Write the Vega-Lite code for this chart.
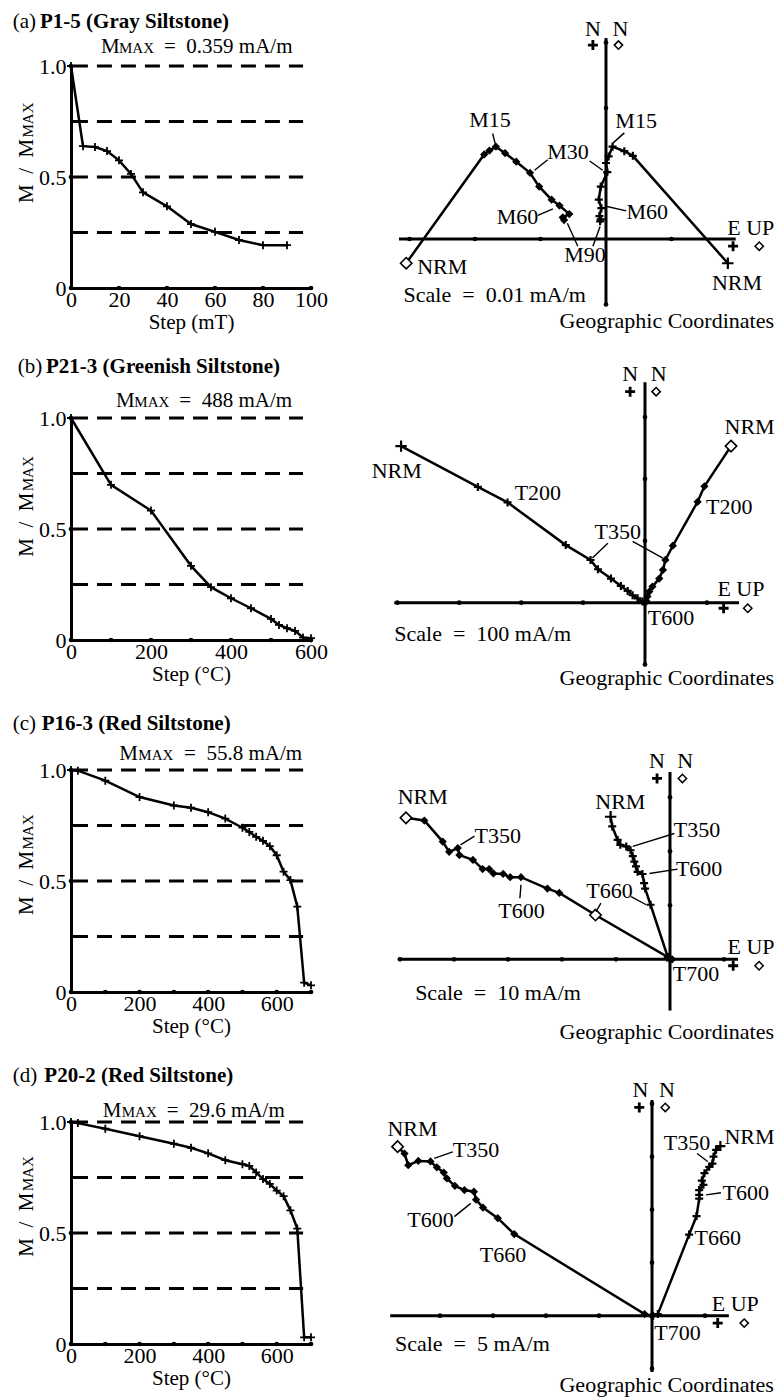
{
"$schema":"https://vega.github.io/schema/vega-lite/v6.json",
"padding":{"left":12,"top":11,"right":0,"bottom":0},
"background":"white",
"config":{
 "view":{"stroke":null},
 "axis":{"domainColor":"black","domainWidth":3,"ticks":false,"tickSize":0,"grid":false,"labelFont":"Liberation Serif","labelFontSize":22,"labelColor":"black","labelFlush":false,"labelOverlap":false,"titleFont":"Liberation Serif","titleFontSize":21,"titleFontWeight":"normal","titleColor":"black"},
 "axisX":{"labelPadding":1,"titlePadding":1},
 "axisY":{"labelPadding":5},
 "text":{"font":"Liberation Serif","color":"black"}
},
"datasets":{
 "ca":[{"step":0,"m":1.0},{"step":5,"m":0.639},{"step":10,"m":0.635},{"step":15,"m":0.617},{"step":20,"m":0.575},{"step":25,"m":0.514},{"step":30,"m":0.431},{"step":40,"m":0.368},{"step":50,"m":0.288},{"step":60,"m":0.253},{"step":70,"m":0.216},{"step":80,"m":0.193},{"step":90,"m":0.193}],
 "cb":[{"step":0,"m":1.0},{"step":100,"m":0.699},{"step":200,"m":0.583},{"step":300,"m":0.334},{"step":350,"m":0.238},{"step":400,"m":0.188},{"step":450,"m":0.143},{"step":500,"m":0.095},{"step":520,"m":0.068},{"step":540,"m":0.053},{"step":560,"m":0.041},{"step":580,"m":0.011},{"step":600,"m":0.008}],
 "cc":[{"step":0,"m":1.0},{"step":20,"m":0.997},{"step":100,"m":0.952},{"step":200,"m":0.878},{"step":300,"m":0.84},{"step":350,"m":0.83},{"step":400,"m":0.81},{"step":450,"m":0.781},{"step":500,"m":0.74},{"step":520,"m":0.721},{"step":540,"m":0.699},{"step":560,"m":0.681},{"step":580,"m":0.657},{"step":600,"m":0.616},{"step":620,"m":0.542},{"step":640,"m":0.504},{"step":660,"m":0.385},{"step":680,"m":0.042},{"step":700,"m":0.03}],
 "cd":[{"step":0,"m":1.0},{"step":20,"m":0.995},{"step":100,"m":0.97},{"step":200,"m":0.936},{"step":300,"m":0.902},{"step":350,"m":0.884},{"step":400,"m":0.859},{"step":450,"m":0.828},{"step":500,"m":0.81},{"step":520,"m":0.802},{"step":540,"m":0.773},{"step":560,"m":0.743},{"step":580,"m":0.721},{"step":600,"m":0.691},{"step":620,"m":0.666},{"step":640,"m":0.602},{"step":660,"m":0.52},{"step":680,"m":0.03},{"step":700,"m":0.03}],
 "za":[
  {"s":"v","i":0,"x":-3.05,"y":-0.37},{"s":"v","i":1,"x":-1.86,"y":1.29},{"s":"v","i":2,"x":-1.78,"y":1.35},{"s":"v","i":3,"x":-1.68,"y":1.41},{"s":"v","i":4,"x":-1.54,"y":1.31},{"s":"v","i":5,"x":-1.37,"y":1.18},{"s":"v","i":6,"x":-1.16,"y":1.01},{"s":"v","i":7,"x":-1.02,"y":0.8},{"s":"v","i":8,"x":-0.83,"y":0.6},{"s":"v","i":9,"x":-0.71,"y":0.51},{"s":"v","i":10,"x":-0.56,"y":0.38},{"s":"v","i":11,"x":-0.66,"y":0.33},{"s":"v","i":12,"x":-0.64,"y":0.29},
  {"s":"h","i":0,"x":1.86,"y":-0.37},{"s":"h","i":1,"x":0.41,"y":1.27},{"s":"h","i":2,"x":0.28,"y":1.34},{"s":"h","i":3,"x":0.1,"y":1.41},{"s":"h","i":4,"x":0.04,"y":1.26},{"s":"h","i":5,"x":0.0,"y":1.16},{"s":"h","i":6,"x":0.02,"y":1.02},{"s":"h","i":7,"x":-0.08,"y":0.8},{"s":"h","i":8,"x":-0.11,"y":0.6},{"s":"h","i":9,"x":-0.07,"y":0.47},{"s":"h","i":10,"x":-0.1,"y":0.35},{"s":"h","i":11,"x":-0.08,"y":0.3},{"s":"h","i":12,"x":-0.09,"y":0.27}],
 "zb":[
  {"s":"h","i":0,"x":-3.94,"y":2.53},{"s":"h","i":1,"x":-2.7,"y":1.87},{"s":"h","i":2,"x":-2.22,"y":1.62},{"s":"h","i":3,"x":-1.28,"y":0.93},{"s":"h","i":4,"x":-0.88,"y":0.69},{"s":"h","i":5,"x":-0.76,"y":0.54},{"s":"h","i":6,"x":-0.55,"y":0.39},{"s":"h","i":7,"x":-0.39,"y":0.27},{"s":"h","i":8,"x":-0.28,"y":0.19},{"s":"h","i":9,"x":-0.2,"y":0.12},{"s":"h","i":10,"x":-0.12,"y":0.07},{"s":"h","i":11,"x":-0.04,"y":0.02},{"s":"h","i":12,"x":0.0,"y":0.0},
  {"s":"v","i":0,"x":1.39,"y":2.53},{"s":"v","i":1,"x":0.96,"y":1.88},{"s":"v","i":2,"x":0.85,"y":1.63},{"s":"v","i":3,"x":0.45,"y":0.92},{"s":"v","i":4,"x":0.33,"y":0.69},{"s":"v","i":5,"x":0.29,"y":0.53},{"s":"v","i":6,"x":0.23,"y":0.39},{"s":"v","i":7,"x":0.12,"y":0.26},{"s":"v","i":8,"x":0.07,"y":0.18},{"s":"v","i":9,"x":0.04,"y":0.1},{"s":"v","i":10,"x":0.02,"y":0.03},{"s":"v","i":11,"x":0.01,"y":0.01},{"s":"v","i":12,"x":0.0,"y":0.0}],
 "zc":[
  {"s":"v","i":0,"x":-4.89,"y":2.62},{"s":"v","i":1,"x":-4.55,"y":2.57},{"s":"v","i":2,"x":-4.21,"y":2.18},{"s":"v","i":3,"x":-4.09,"y":1.99},{"s":"v","i":4,"x":-3.93,"y":2.06},{"s":"v","i":5,"x":-3.9,"y":1.93},{"s":"v","i":6,"x":-3.65,"y":1.84},{"s":"v","i":7,"x":-3.47,"y":1.67},{"s":"v","i":8,"x":-3.35,"y":1.67},{"s":"v","i":9,"x":-3.27,"y":1.59},{"s":"v","i":10,"x":-3.09,"y":1.58},{"s":"v","i":11,"x":-2.96,"y":1.52},{"s":"v","i":12,"x":-2.76,"y":1.52},{"s":"v","i":13,"x":-2.27,"y":1.31},{"s":"v","i":14,"x":-2.05,"y":1.23},{"s":"v","i":15,"x":-1.38,"y":0.82},{"s":"v","i":16,"x":-0.04,"y":0.04},{"s":"v","i":17,"x":0.04,"y":0.0},
  {"s":"h","i":0,"x":-1.1,"y":2.64},{"s":"h","i":1,"x":-1.07,"y":2.46},{"s":"h","i":2,"x":-0.97,"y":2.21},{"s":"h","i":3,"x":-0.92,"y":2.12},{"s":"h","i":4,"x":-0.81,"y":2.09},{"s":"h","i":5,"x":-0.73,"y":2.02},{"s":"h","i":6,"x":-0.69,"y":1.91},{"s":"h","i":7,"x":-0.66,"y":1.81},{"s":"h","i":8,"x":-0.63,"y":1.72},{"s":"h","i":9,"x":-0.6,"y":1.62},{"s":"h","i":10,"x":-0.51,"y":1.58},{"s":"h","i":11,"x":-0.48,"y":1.41},{"s":"h","i":12,"x":-0.46,"y":1.31},{"s":"h","i":13,"x":-0.36,"y":1.01},{"s":"h","i":14,"x":-0.04,"y":0.04},{"s":"h","i":15,"x":0.0,"y":-0.02}],
 "zd":[
  {"s":"v","i":0,"x":-4.8,"y":3.19},{"s":"v","i":1,"x":-4.67,"y":3.06},{"s":"v","i":2,"x":-4.6,"y":2.84},{"s":"v","i":3,"x":-4.41,"y":2.92},{"s":"v","i":4,"x":-4.18,"y":2.91},{"s":"v","i":5,"x":-4.06,"y":2.8},{"s":"v","i":6,"x":-3.93,"y":2.7},{"s":"v","i":7,"x":-3.87,"y":2.59},{"s":"v","i":8,"x":-3.72,"y":2.45},{"s":"v","i":9,"x":-3.54,"y":2.37},{"s":"v","i":10,"x":-3.36,"y":2.34},{"s":"v","i":11,"x":-3.32,"y":2.19},{"s":"v","i":12,"x":-3.19,"y":2.04},{"s":"v","i":13,"x":-2.91,"y":1.84},{"s":"v","i":14,"x":-2.6,"y":1.54},{"s":"v","i":15,"x":-0.14,"y":0.03},{"s":"v","i":16,"x":0.0,"y":0.0},
  {"s":"h","i":0,"x":1.29,"y":3.2},{"s":"h","i":1,"x":1.21,"y":3.13},{"s":"h","i":2,"x":1.16,"y":3.0},{"s":"h","i":3,"x":1.14,"y":2.87},{"s":"h","i":4,"x":1.08,"y":2.81},{"s":"h","i":5,"x":0.99,"y":2.69},{"s":"h","i":6,"x":0.94,"y":2.55},{"s":"h","i":7,"x":0.97,"y":2.47},{"s":"h","i":8,"x":0.89,"y":2.37},{"s":"h","i":9,"x":0.89,"y":2.28},{"s":"h","i":10,"x":0.89,"y":2.21},{"s":"h","i":11,"x":0.84,"y":1.88},{"s":"h","i":12,"x":0.7,"y":1.53},{"s":"h","i":13,"x":0.11,"y":0.03},{"s":"h","i":14,"x":0.02,"y":0.0}]
},
"columns":2,
"bounds":"flush",
"spacing":{"row":130,"column":80},
"concat":[
{"width":240,"height":222,"layer":[
 {"data":{"values":[{"l":1},{"l":0.75},{"l":0.5},{"l":0.25}]},"mark":{"type":"rule","strokeDash":[15,9],"strokeWidth":2.8,"color":"black"},"encoding":{"y":{"field":"l","type":"quantitative","scale":{"domain":[0,1],"nice":false,"zero":false},"axis":{"values":[0,0.5,1],"labelExpr":"datum.value==0?'0':format(datum.value,'.1f')","title":null}},"x":{"datum":0.8,"type":"quantitative","scale":{"domain":[0,100],"nice":false,"zero":false},"axis":{"values":[0,20,40,60,80,100],"title":"Step (mT)"}},"x2":{"datum":96.7}}},
 {"data":{"name":"ca"},"mark":{"type":"line","color":"black","strokeWidth":2.5},"encoding":{"x":{"field":"step","type":"quantitative","scale":{"domain":[0,100],"nice":false,"zero":false},"axis":{"values":[0,20,40,60,80,100],"title":"Step (mT)"}},"y":{"field":"m","type":"quantitative","scale":{"domain":[0,1],"nice":false,"zero":false},"axis":{"values":[0,0.5,1],"labelExpr":"datum.value==0?'0':format(datum.value,'.1f')","title":null}}}},
 {"data":{"name":"ca"},"mark":{"type":"point","shape":"M-1,0L1,0M0,-1L0,1","filled":false,"stroke":"black","strokeWidth":1.8,"size":64,"opacity":1},"encoding":{"x":{"field":"step","type":"quantitative","scale":{"domain":[0,100],"nice":false,"zero":false},"axis":{"values":[0,20,40,60,80,100],"title":"Step (mT)"}},"y":{"field":"m","type":"quantitative","scale":{"domain":[0,1],"nice":false,"zero":false},"axis":{"values":[0,0.5,1],"labelExpr":"datum.value==0?'0':format(datum.value,'.1f')","title":null}}}},
 {"data":{"values":[{"x":0,"y":0},{"x":20,"y":0},{"x":40,"y":0},{"x":60,"y":0},{"x":80,"y":0},{"x":100,"y":0},{"x":0,"y":0.5},{"x":0,"y":1}]},"mark":{"type":"point","shape":"circle","filled":true,"color":"black","size":22,"opacity":1},"encoding":{"x":{"field":"x","type":"quantitative","scale":{"domain":[0,100],"nice":false,"zero":false},"axis":{"values":[0,20,40,60,80,100],"title":"Step (mT)"}},"y":{"field":"y","type":"quantitative","scale":{"domain":[0,1],"nice":false,"zero":false},"axis":{"values":[0,0.5,1],"labelExpr":"datum.value==0?'0':format(datum.value,'.1f')","title":null}}}},
 {"data":{"values":[{"x":-24.3,"y":1.17,"t":"(a)"},{"x":12.5,"y":1.057,"t":"M"},{"x":38.75,"y":1.057,"t":"=\u00a0\u00a00.359 mA/m"}]},"mark":{"type":"text","align":"left","baseline":"alphabetic","fontSize":21},"encoding":{"x":{"field":"x","type":"quantitative","scale":{"domain":[0,100],"nice":false,"zero":false},"axis":{"values":[0,20,40,60,80,100],"title":"Step (mT)"}},"y":{"field":"y","type":"quantitative","scale":{"domain":[0,1],"nice":false,"zero":false},"axis":{"values":[0,0.5,1],"labelExpr":"datum.value==0?'0':format(datum.value,'.1f')","title":null}},"text":{"field":"t"}}},
 {"data":{"values":[{"x":-12.9,"y":1.17,"t":"P1-5 (Gray Siltstone)"}]},"mark":{"type":"text","align":"left","baseline":"alphabetic","fontSize":21,"fontWeight":"bold"},"encoding":{"x":{"field":"x","type":"quantitative","scale":{"domain":[0,100],"nice":false,"zero":false},"axis":{"values":[0,20,40,60,80,100],"title":"Step (mT)"}},"y":{"field":"y","type":"quantitative","scale":{"domain":[0,1],"nice":false,"zero":false},"axis":{"values":[0,0.5,1],"labelExpr":"datum.value==0?'0':format(datum.value,'.1f')","title":null}},"text":{"field":"t"}}},
 {"data":{"values":[{"x":20.0,"y":1.057,"t":"MAX"}]},"mark":{"type":"text","align":"left","baseline":"alphabetic","fontSize":15},"encoding":{"x":{"field":"x","type":"quantitative","scale":{"domain":[0,100],"nice":false,"zero":false},"axis":{"values":[0,20,40,60,80,100],"title":"Step (mT)"}},"y":{"field":"y","type":"quantitative","scale":{"domain":[0,1],"nice":false,"zero":false},"axis":{"values":[0,0.5,1],"labelExpr":"datum.value==0?'0':format(datum.value,'.1f')","title":null}},"text":{"field":"t"}}},
 {"data":{"values":[{"x":-15.96,"y":0.383,"t":"M\u00a0\u00a0/\u00a0\u00a0M"}]},"mark":{"type":"text","align":"left","baseline":"alphabetic","fontSize":21,"angle":270},"encoding":{"x":{"field":"x","type":"quantitative","scale":{"domain":[0,100],"nice":false,"zero":false},"axis":{"values":[0,20,40,60,80,100],"title":"Step (mT)"}},"y":{"field":"y","type":"quantitative","scale":{"domain":[0,1],"nice":false,"zero":false},"axis":{"values":[0,0.5,1],"labelExpr":"datum.value==0?'0':format(datum.value,'.1f')","title":null}},"text":{"field":"t"}}},
 {"data":{"values":[{"x":-15.96,"y":0.678,"t":"MAX"}]},"mark":{"type":"text","align":"left","baseline":"alphabetic","fontSize":15,"angle":270},"encoding":{"x":{"field":"x","type":"quantitative","scale":{"domain":[0,100],"nice":false,"zero":false},"axis":{"values":[0,20,40,60,80,100],"title":"Step (mT)"}},"y":{"field":"y","type":"quantitative","scale":{"domain":[0,1],"nice":false,"zero":false},"axis":{"values":[0,0.5,1],"labelExpr":"datum.value==0?'0':format(datum.value,'.1f')","title":null}},"text":{"field":"t"}}}
]},
{"width":350,"height":222,"layer":[
 {"data":{"values":[{}]},"mark":{"type":"rule","strokeWidth":3,"color":"black"},"encoding":{"x":{"datum":-3.16,"type":"quantitative","scale":{"domain":[-3.282,2.061],"nice":false,"zero":false},"axis":null},"x2":{"datum":1.98},"y":{"datum":0,"type":"quantitative","scale":{"domain":[-0.748,2.641],"nice":false,"zero":false},"axis":null}}},
 {"data":{"values":[{}]},"mark":{"type":"rule","strokeWidth":3,"color":"black"},"encoding":{"x":{"datum":0,"type":"quantitative","scale":{"domain":[-3.282,2.061],"nice":false,"zero":false},"axis":null},"y":{"datum":-1.0,"type":"quantitative","scale":{"domain":[-0.748,2.641],"nice":false,"zero":false},"axis":null},"y2":{"datum":3.07}}},
 {"data":{"values":[{"x":-3,"y":0},{"x":-2,"y":0},{"x":-1,"y":0},{"x":1,"y":0},{"x":0,"y":1},{"x":0,"y":2},{"x":0,"y":3},{"x":0,"y":-1}]},"mark":{"type":"point","shape":"circle","filled":true,"color":"black","size":22,"opacity":1},"encoding":{"x":{"field":"x","type":"quantitative","scale":{"domain":[-3.282,2.061],"nice":false,"zero":false},"axis":null},"y":{"field":"y","type":"quantitative","scale":{"domain":[-0.748,2.641],"nice":false,"zero":false},"axis":null}}},
 {"data":{"name":"za"},"transform":[{"filter":"datum.s=='v'"}],"mark":{"type":"line","color":"black","strokeWidth":2.5},"encoding":{"x":{"field":"x","type":"quantitative","scale":{"domain":[-3.282,2.061],"nice":false,"zero":false},"axis":null},"y":{"field":"y","type":"quantitative","scale":{"domain":[-0.748,2.641],"nice":false,"zero":false},"axis":null},"order":{"field":"i","type":"quantitative"}}},
 {"data":{"name":"za"},"transform":[{"filter":"datum.s=='h'"}],"mark":{"type":"line","color":"black","strokeWidth":2.5},"encoding":{"x":{"field":"x","type":"quantitative","scale":{"domain":[-3.282,2.061],"nice":false,"zero":false},"axis":null},"y":{"field":"y","type":"quantitative","scale":{"domain":[-0.748,2.641],"nice":false,"zero":false},"axis":null},"order":{"field":"i","type":"quantitative"}}},
 {"data":{"name":"za"},"transform":[{"filter":"datum.s=='v'"}],"mark":{"type":"point","shape":"diamond","filled":true,"stroke":"black","strokeWidth":1.6,"opacity":1},"encoding":{"x":{"field":"x","type":"quantitative","scale":{"domain":[-3.282,2.061],"nice":false,"zero":false},"axis":null},"y":{"field":"y","type":"quantitative","scale":{"domain":[-0.748,2.641],"nice":false,"zero":false},"axis":null},"fill":{"condition":{"test":"datum.i==0","value":"white"},"value":"black"},"size":{"condition":{"test":"datum.i==0","value":130},"value":36}}},
 {"data":{"name":"za"},"transform":[{"filter":"datum.s=='h'"}],"mark":{"type":"point","shape":"M-1,0L1,0M0,-1L0,1","filled":false,"stroke":"black","strokeWidth":2.2,"opacity":1},"encoding":{"x":{"field":"x","type":"quantitative","scale":{"domain":[-3.282,2.061],"nice":false,"zero":false},"axis":null},"y":{"field":"y","type":"quantitative","scale":{"domain":[-0.748,2.641],"nice":false,"zero":false},"axis":null},"size":{"condition":{"test":"datum.i==0","value":130},"value":64}}},
 {"data":{"values":[{"x":-1.73,"y":1.61,"x2":-1.69,"y2":1.45},{"x":0.28,"y":1.62,"x2":0.1,"y2":1.46},{"x":-0.89,"y":1.21,"x2":-1.09,"y2":1.05},{"x":-0.25,"y":1.19,"x2":-0.05,"y2":1.05},{"x":-1.04,"y":0.36,"x2":-0.81,"y2":0.46},{"x":0.31,"y":0.43,"x2":0.0,"y2":0.5},{"x":-0.43,"y":-0.11,"x2":-0.59,"y2":0.24},{"x":-0.2,"y":-0.11,"x2":-0.09,"y2":0.19}]},"mark":{"type":"rule","strokeWidth":1.4,"color":"black"},"encoding":{"x":{"field":"x","type":"quantitative","scale":{"domain":[-3.282,2.061],"nice":false,"zero":false},"axis":null},"y":{"field":"y","type":"quantitative","scale":{"domain":[-0.748,2.641],"nice":false,"zero":false},"axis":null},"x2":{"field":"x2"},"y2":{"field":"y2"}}},
 {"data":{"values":[{"x":-1.77,"y":1.81,"t":"M15"},{"x":0.46,"y":1.8,"t":"M15"},{"x":-0.58,"y":1.33,"t":"M30"},{"x":-1.35,"y":0.34,"t":"M60"},{"x":0.63,"y":0.41,"t":"M60"},{"x":-0.32,"y":-0.24,"t":"M90"},{"x":-2.5,"y":-0.42,"t":"NRM"},{"x":2.0,"y":-0.67,"t":"NRM"},{"x":-0.2,"y":3.21,"t":"N"},{"x":0.22,"y":3.21,"t":"N"},{"x":2.21,"y":0.17,"t":"E UP"}]},"mark":{"type":"text","align":"center","baseline":"middle","fontSize":22},"encoding":{"x":{"field":"x","type":"quantitative","scale":{"domain":[-3.282,2.061],"nice":false,"zero":false},"axis":null},"y":{"field":"y","type":"quantitative","scale":{"domain":[-0.748,2.641],"nice":false,"zero":false},"axis":null},"text":{"field":"t"}}},
 {"data":{"values":[{"x":-3.09,"y":-0.85,"t":"Scale\u00a0\u00a0=\u00a0\u00a00.01 mA/m"}]},"mark":{"type":"text","align":"left","baseline":"middle","fontSize":22},"encoding":{"x":{"field":"x","type":"quantitative","scale":{"domain":[-3.282,2.061],"nice":false,"zero":false},"axis":null},"y":{"field":"y","type":"quantitative","scale":{"domain":[-0.748,2.641],"nice":false,"zero":false},"axis":null},"text":{"field":"t"}}},
 {"data":{"values":[{"x":2.565,"y":-1.25,"t":"Geographic Coordinates"}]},"mark":{"type":"text","align":"right","baseline":"middle","fontSize":22},"encoding":{"x":{"field":"x","type":"quantitative","scale":{"domain":[-3.282,2.061],"nice":false,"zero":false},"axis":null},"y":{"field":"y","type":"quantitative","scale":{"domain":[-0.748,2.641],"nice":false,"zero":false},"axis":null},"text":{"field":"t"}}},
 {"data":{"values":[{"x":-0.2,"y":2.96},{"x":1.94,"y":-0.11}]},"mark":{"type":"point","shape":"M-1,0L1,0M0,-1L0,1","filled":false,"stroke":"black","strokeWidth":2.8,"size":100,"opacity":1},"encoding":{"x":{"field":"x","type":"quantitative","scale":{"domain":[-3.282,2.061],"nice":false,"zero":false},"axis":null},"y":{"field":"y","type":"quantitative","scale":{"domain":[-0.748,2.641],"nice":false,"zero":false},"axis":null}}},
 {"data":{"values":[{"x":0.19,"y":2.96},{"x":2.34,"y":-0.11}]},"mark":{"type":"point","shape":"diamond","filled":true,"fill":"white","stroke":"black","strokeWidth":1.5,"size":70,"opacity":1},"encoding":{"x":{"field":"x","type":"quantitative","scale":{"domain":[-3.282,2.061],"nice":false,"zero":false},"axis":null},"y":{"field":"y","type":"quantitative","scale":{"domain":[-0.748,2.641],"nice":false,"zero":false},"axis":null}}}
]},
{"width":240,"height":222,"layer":[
 {"data":{"values":[{"l":1},{"l":0.75},{"l":0.5},{"l":0.25}]},"mark":{"type":"rule","strokeDash":[15,9],"strokeWidth":2.8,"color":"black"},"encoding":{"y":{"field":"l","type":"quantitative","scale":{"domain":[0,1],"nice":false,"zero":false},"axis":{"values":[0,0.5,1],"labelExpr":"datum.value==0?'0':format(datum.value,'.1f')","title":null}},"x":{"datum":5,"type":"quantitative","scale":{"domain":[0,600],"nice":false,"zero":false},"axis":{"values":[0,200,400,600],"title":"Step (°C)"}},"x2":{"datum":580}}},
 {"data":{"name":"cb"},"mark":{"type":"line","color":"black","strokeWidth":2.5},"encoding":{"x":{"field":"step","type":"quantitative","scale":{"domain":[0,600],"nice":false,"zero":false},"axis":{"values":[0,200,400,600],"title":"Step (°C)"}},"y":{"field":"m","type":"quantitative","scale":{"domain":[0,1],"nice":false,"zero":false},"axis":{"values":[0,0.5,1],"labelExpr":"datum.value==0?'0':format(datum.value,'.1f')","title":null}}}},
 {"data":{"name":"cb"},"mark":{"type":"point","shape":"M-1,0L1,0M0,-1L0,1","filled":false,"stroke":"black","strokeWidth":1.8,"size":64,"opacity":1},"encoding":{"x":{"field":"step","type":"quantitative","scale":{"domain":[0,600],"nice":false,"zero":false},"axis":{"values":[0,200,400,600],"title":"Step (°C)"}},"y":{"field":"m","type":"quantitative","scale":{"domain":[0,1],"nice":false,"zero":false},"axis":{"values":[0,0.5,1],"labelExpr":"datum.value==0?'0':format(datum.value,'.1f')","title":null}}}},
 {"data":{"values":[{"x":0,"y":0},{"x":100,"y":0},{"x":200,"y":0},{"x":300,"y":0},{"x":400,"y":0},{"x":500,"y":0},{"x":600,"y":0},{"x":0,"y":0.5},{"x":0,"y":1}]},"mark":{"type":"point","shape":"circle","filled":true,"color":"black","size":22,"opacity":1},"encoding":{"x":{"field":"x","type":"quantitative","scale":{"domain":[0,600],"nice":false,"zero":false},"axis":{"values":[0,200,400,600],"title":"Step (°C)"}},"y":{"field":"y","type":"quantitative","scale":{"domain":[0,1],"nice":false,"zero":false},"axis":{"values":[0,0.5,1],"labelExpr":"datum.value==0?'0':format(datum.value,'.1f')","title":null}}}},
 {"data":{"values":[{"x":-133.3,"y":1.203,"t":"(b)"},{"x":112.5,"y":1.048,"t":"M"},{"x":270.8,"y":1.048,"t":"=\u00a0\u00a0488 mA/m"}]},"mark":{"type":"text","align":"left","baseline":"alphabetic","fontSize":21},"encoding":{"x":{"field":"x","type":"quantitative","scale":{"domain":[0,600],"nice":false,"zero":false},"axis":{"values":[0,200,400,600],"title":"Step (°C)"}},"y":{"field":"y","type":"quantitative","scale":{"domain":[0,1],"nice":false,"zero":false},"axis":{"values":[0,0.5,1],"labelExpr":"datum.value==0?'0':format(datum.value,'.1f')","title":null}},"text":{"field":"t"}}},
 {"data":{"values":[{"x":-62.5,"y":1.203,"t":"P21-3 (Greenish Siltstone)"}]},"mark":{"type":"text","align":"left","baseline":"alphabetic","fontSize":21,"fontWeight":"bold"},"encoding":{"x":{"field":"x","type":"quantitative","scale":{"domain":[0,600],"nice":false,"zero":false},"axis":{"values":[0,200,400,600],"title":"Step (°C)"}},"y":{"field":"y","type":"quantitative","scale":{"domain":[0,1],"nice":false,"zero":false},"axis":{"values":[0,0.5,1],"labelExpr":"datum.value==0?'0':format(datum.value,'.1f')","title":null}},"text":{"field":"t"}}},
 {"data":{"values":[{"x":158.3,"y":1.048,"t":"MAX"}]},"mark":{"type":"text","align":"left","baseline":"alphabetic","fontSize":15},"encoding":{"x":{"field":"x","type":"quantitative","scale":{"domain":[0,600],"nice":false,"zero":false},"axis":{"values":[0,200,400,600],"title":"Step (°C)"}},"y":{"field":"y","type":"quantitative","scale":{"domain":[0,1],"nice":false,"zero":false},"axis":{"values":[0,0.5,1],"labelExpr":"datum.value==0?'0':format(datum.value,'.1f')","title":null}},"text":{"field":"t"}}},
 {"data":{"values":[{"x":-95.75,"y":0.375,"t":"M\u00a0\u00a0/\u00a0\u00a0M"}]},"mark":{"type":"text","align":"left","baseline":"alphabetic","fontSize":21,"angle":270},"encoding":{"x":{"field":"x","type":"quantitative","scale":{"domain":[0,600],"nice":false,"zero":false},"axis":{"values":[0,200,400,600],"title":"Step (°C)"}},"y":{"field":"y","type":"quantitative","scale":{"domain":[0,1],"nice":false,"zero":false},"axis":{"values":[0,0.5,1],"labelExpr":"datum.value==0?'0':format(datum.value,'.1f')","title":null}},"text":{"field":"t"}}},
 {"data":{"values":[{"x":-95.75,"y":0.67,"t":"MAX"}]},"mark":{"type":"text","align":"left","baseline":"alphabetic","fontSize":15,"angle":270},"encoding":{"x":{"field":"x","type":"quantitative","scale":{"domain":[0,600],"nice":false,"zero":false},"axis":{"values":[0,200,400,600],"title":"Step (°C)"}},"y":{"field":"y","type":"quantitative","scale":{"domain":[0,1],"nice":false,"zero":false},"axis":{"values":[0,0.5,1],"labelExpr":"datum.value==0?'0':format(datum.value,'.1f')","title":null}},"text":{"field":"t"}}}
]},
{"width":350,"height":222,"layer":[
 {"data":{"values":[{}]},"mark":{"type":"rule","strokeWidth":3,"color":"black"},"encoding":{"x":{"datum":-4.05,"type":"quantitative","scale":{"domain":[-4.103,1.551],"nice":false,"zero":false},"axis":null},"x2":{"datum":1.52},"y":{"datum":0,"type":"quantitative","scale":{"domain":[-0.603,2.984],"nice":false,"zero":false},"axis":null}}},
 {"data":{"values":[{}]},"mark":{"type":"rule","strokeWidth":3,"color":"black"},"encoding":{"x":{"datum":0,"type":"quantitative","scale":{"domain":[-4.103,1.551],"nice":false,"zero":false},"axis":null},"y":{"datum":-1.0,"type":"quantitative","scale":{"domain":[-0.603,2.984],"nice":false,"zero":false},"axis":null},"y2":{"datum":3.56}}},
 {"data":{"values":[{"x":-4,"y":0},{"x":-3,"y":0},{"x":-2,"y":0},{"x":-1,"y":0},{"x":1,"y":0},{"x":0,"y":1},{"x":0,"y":2},{"x":0,"y":3},{"x":0,"y":-1}]},"mark":{"type":"point","shape":"circle","filled":true,"color":"black","size":22,"opacity":1},"encoding":{"x":{"field":"x","type":"quantitative","scale":{"domain":[-4.103,1.551],"nice":false,"zero":false},"axis":null},"y":{"field":"y","type":"quantitative","scale":{"domain":[-0.603,2.984],"nice":false,"zero":false},"axis":null}}},
 {"data":{"name":"zb"},"transform":[{"filter":"datum.s=='v'"}],"mark":{"type":"line","color":"black","strokeWidth":2.5},"encoding":{"x":{"field":"x","type":"quantitative","scale":{"domain":[-4.103,1.551],"nice":false,"zero":false},"axis":null},"y":{"field":"y","type":"quantitative","scale":{"domain":[-0.603,2.984],"nice":false,"zero":false},"axis":null},"order":{"field":"i","type":"quantitative"}}},
 {"data":{"name":"zb"},"transform":[{"filter":"datum.s=='h'"}],"mark":{"type":"line","color":"black","strokeWidth":2.5},"encoding":{"x":{"field":"x","type":"quantitative","scale":{"domain":[-4.103,1.551],"nice":false,"zero":false},"axis":null},"y":{"field":"y","type":"quantitative","scale":{"domain":[-0.603,2.984],"nice":false,"zero":false},"axis":null},"order":{"field":"i","type":"quantitative"}}},
 {"data":{"name":"zb"},"transform":[{"filter":"datum.s=='v'"}],"mark":{"type":"point","shape":"diamond","filled":true,"stroke":"black","strokeWidth":1.6,"opacity":1},"encoding":{"x":{"field":"x","type":"quantitative","scale":{"domain":[-4.103,1.551],"nice":false,"zero":false},"axis":null},"y":{"field":"y","type":"quantitative","scale":{"domain":[-0.603,2.984],"nice":false,"zero":false},"axis":null},"fill":{"condition":{"test":"datum.i==0","value":"white"},"value":"black"},"size":{"condition":{"test":"datum.i==0","value":130},"value":36}}},
 {"data":{"name":"zb"},"transform":[{"filter":"datum.s=='h'"}],"mark":{"type":"point","shape":"M-1,0L1,0M0,-1L0,1","filled":false,"stroke":"black","strokeWidth":2.2,"opacity":1},"encoding":{"x":{"field":"x","type":"quantitative","scale":{"domain":[-4.103,1.551],"nice":false,"zero":false},"axis":null},"y":{"field":"y","type":"quantitative","scale":{"domain":[-0.603,2.984],"nice":false,"zero":false},"axis":null},"size":{"condition":{"test":"datum.i==0","value":130},"value":64}}},
 {"data":{"values":[{"x":-0.6,"y":0.96,"x2":-0.85,"y2":0.72},{"x":-0.2,"y":0.99,"x2":0.29,"y2":0.72}]},"mark":{"type":"rule","strokeWidth":1.4,"color":"black"},"encoding":{"x":{"field":"x","type":"quantitative","scale":{"domain":[-4.103,1.551],"nice":false,"zero":false},"axis":null},"y":{"field":"y","type":"quantitative","scale":{"domain":[-0.603,2.984],"nice":false,"zero":false},"axis":null},"x2":{"field":"x2"},"y2":{"field":"y2"}}},
 {"data":{"values":[{"x":-4.01,"y":2.12,"t":"NRM"},{"x":-1.73,"y":1.78,"t":"T200"},{"x":-0.44,"y":1.15,"t":"T350"},{"x":1.69,"y":2.84,"t":"NRM"},{"x":1.36,"y":1.55,"t":"T200"},{"x":0.42,"y":-0.24,"t":"T600"},{"x":-0.24,"y":3.69,"t":"N"},{"x":0.22,"y":3.69,"t":"N"},{"x":1.55,"y":0.22,"t":"E UP"}]},"mark":{"type":"text","align":"center","baseline":"middle","fontSize":22},"encoding":{"x":{"field":"x","type":"quantitative","scale":{"domain":[-4.103,1.551],"nice":false,"zero":false},"axis":null},"y":{"field":"y","type":"quantitative","scale":{"domain":[-0.603,2.984],"nice":false,"zero":false},"axis":null},"text":{"field":"t"}}},
 {"data":{"values":[{"x":-4.05,"y":-0.5,"t":"Scale\u00a0\u00a0=\u00a0\u00a0100 mA/m"}]},"mark":{"type":"text","align":"left","baseline":"middle","fontSize":22},"encoding":{"x":{"field":"x","type":"quantitative","scale":{"domain":[-4.103,1.551],"nice":false,"zero":false},"axis":null},"y":{"field":"y","type":"quantitative","scale":{"domain":[-0.603,2.984],"nice":false,"zero":false},"axis":null},"text":{"field":"t"}}},
 {"data":{"values":[{"x":2.084,"y":-1.225,"t":"Geographic Coordinates"}]},"mark":{"type":"text","align":"right","baseline":"middle","fontSize":22},"encoding":{"x":{"field":"x","type":"quantitative","scale":{"domain":[-4.103,1.551],"nice":false,"zero":false},"axis":null},"y":{"field":"y","type":"quantitative","scale":{"domain":[-0.603,2.984],"nice":false,"zero":false},"axis":null},"text":{"field":"t"}}},
 {"data":{"values":[{"x":-0.24,"y":3.41},{"x":1.27,"y":-0.09}]},"mark":{"type":"point","shape":"M-1,0L1,0M0,-1L0,1","filled":false,"stroke":"black","strokeWidth":2.8,"size":100,"opacity":1},"encoding":{"x":{"field":"x","type":"quantitative","scale":{"domain":[-4.103,1.551],"nice":false,"zero":false},"axis":null},"y":{"field":"y","type":"quantitative","scale":{"domain":[-0.603,2.984],"nice":false,"zero":false},"axis":null}}},
 {"data":{"values":[{"x":0.18,"y":3.41},{"x":1.66,"y":-0.09}]},"mark":{"type":"point","shape":"diamond","filled":true,"fill":"white","stroke":"black","strokeWidth":1.5,"size":70,"opacity":1},"encoding":{"x":{"field":"x","type":"quantitative","scale":{"domain":[-4.103,1.551],"nice":false,"zero":false},"axis":null},"y":{"field":"y","type":"quantitative","scale":{"domain":[-0.603,2.984],"nice":false,"zero":false},"axis":null}}}
]},
{"width":240,"height":222,"layer":[
 {"data":{"values":[{"l":1},{"l":0.75},{"l":0.5},{"l":0.25}]},"mark":{"type":"rule","strokeDash":[15,9],"strokeWidth":2.8,"color":"black"},"encoding":{"y":{"field":"l","type":"quantitative","scale":{"domain":[0,1],"nice":false,"zero":false},"axis":{"values":[0,0.5,1],"labelExpr":"datum.value==0?'0':format(datum.value,'.1f')","title":null}},"x":{"datum":5.8,"type":"quantitative","scale":{"domain":[0,700],"nice":false,"zero":false},"axis":{"values":[0,200,400,600],"title":"Step (°C)"}},"x2":{"datum":677}}},
 {"data":{"name":"cc"},"mark":{"type":"line","color":"black","strokeWidth":2.5},"encoding":{"x":{"field":"step","type":"quantitative","scale":{"domain":[0,700],"nice":false,"zero":false},"axis":{"values":[0,200,400,600],"title":"Step (°C)"}},"y":{"field":"m","type":"quantitative","scale":{"domain":[0,1],"nice":false,"zero":false},"axis":{"values":[0,0.5,1],"labelExpr":"datum.value==0?'0':format(datum.value,'.1f')","title":null}}}},
 {"data":{"name":"cc"},"mark":{"type":"point","shape":"M-1,0L1,0M0,-1L0,1","filled":false,"stroke":"black","strokeWidth":1.8,"size":64,"opacity":1},"encoding":{"x":{"field":"step","type":"quantitative","scale":{"domain":[0,700],"nice":false,"zero":false},"axis":{"values":[0,200,400,600],"title":"Step (°C)"}},"y":{"field":"m","type":"quantitative","scale":{"domain":[0,1],"nice":false,"zero":false},"axis":{"values":[0,0.5,1],"labelExpr":"datum.value==0?'0':format(datum.value,'.1f')","title":null}}}},
 {"data":{"values":[{"x":0,"y":0},{"x":100,"y":0},{"x":200,"y":0},{"x":300,"y":0},{"x":400,"y":0},{"x":500,"y":0},{"x":600,"y":0},{"x":700,"y":0},{"x":0,"y":0.5},{"x":0,"y":1}]},"mark":{"type":"point","shape":"circle","filled":true,"color":"black","size":22,"opacity":1},"encoding":{"x":{"field":"x","type":"quantitative","scale":{"domain":[0,700],"nice":false,"zero":false},"axis":{"values":[0,200,400,600],"title":"Step (°C)"}},"y":{"field":"y","type":"quantitative","scale":{"domain":[0,1],"nice":false,"zero":false},"axis":{"values":[0,0.5,1],"labelExpr":"datum.value==0?'0':format(datum.value,'.1f')","title":null}}}},
 {"data":{"values":[{"x":-170,"y":1.18,"t":"(c)"},{"x":140.9,"y":1.045,"t":"M"},{"x":329.9,"y":1.045,"t":"=\u00a0\u00a055.8 mA/m"}]},"mark":{"type":"text","align":"left","baseline":"alphabetic","fontSize":21},"encoding":{"x":{"field":"x","type":"quantitative","scale":{"domain":[0,700],"nice":false,"zero":false},"axis":{"values":[0,200,400,600],"title":"Step (°C)"}},"y":{"field":"y","type":"quantitative","scale":{"domain":[0,1],"nice":false,"zero":false},"axis":{"values":[0,0.5,1],"labelExpr":"datum.value==0?'0':format(datum.value,'.1f')","title":null}},"text":{"field":"t"}}},
 {"data":{"values":[{"x":-85.5,"y":1.18,"t":"P16-3 (Red Siltstone)"}]},"mark":{"type":"text","align":"left","baseline":"alphabetic","fontSize":21,"fontWeight":"bold"},"encoding":{"x":{"field":"x","type":"quantitative","scale":{"domain":[0,700],"nice":false,"zero":false},"axis":{"values":[0,200,400,600],"title":"Step (°C)"}},"y":{"field":"y","type":"quantitative","scale":{"domain":[0,1],"nice":false,"zero":false},"axis":{"values":[0,0.5,1],"labelExpr":"datum.value==0?'0':format(datum.value,'.1f')","title":null}},"text":{"field":"t"}}},
 {"data":{"values":[{"x":196.3,"y":1.045,"t":"MAX"}]},"mark":{"type":"text","align":"left","baseline":"alphabetic","fontSize":15},"encoding":{"x":{"field":"x","type":"quantitative","scale":{"domain":[0,700],"nice":false,"zero":false},"axis":{"values":[0,200,400,600],"title":"Step (°C)"}},"y":{"field":"y","type":"quantitative","scale":{"domain":[0,1],"nice":false,"zero":false},"axis":{"values":[0,0.5,1],"labelExpr":"datum.value==0?'0':format(datum.value,'.1f')","title":null}},"text":{"field":"t"}}},
 {"data":{"values":[{"x":-111.7,"y":0.347,"t":"M\u00a0\u00a0/\u00a0\u00a0M"}]},"mark":{"type":"text","align":"left","baseline":"alphabetic","fontSize":21,"angle":270},"encoding":{"x":{"field":"x","type":"quantitative","scale":{"domain":[0,700],"nice":false,"zero":false},"axis":{"values":[0,200,400,600],"title":"Step (°C)"}},"y":{"field":"y","type":"quantitative","scale":{"domain":[0,1],"nice":false,"zero":false},"axis":{"values":[0,0.5,1],"labelExpr":"datum.value==0?'0':format(datum.value,'.1f')","title":null}},"text":{"field":"t"}}},
 {"data":{"values":[{"x":-111.7,"y":0.642,"t":"MAX"}]},"mark":{"type":"text","align":"left","baseline":"alphabetic","fontSize":15,"angle":270},"encoding":{"x":{"field":"x","type":"quantitative","scale":{"domain":[0,700],"nice":false,"zero":false},"axis":{"values":[0,200,400,600],"title":"Step (°C)"}},"y":{"field":"y","type":"quantitative","scale":{"domain":[0,1],"nice":false,"zero":false},"axis":{"values":[0,0.5,1],"labelExpr":"datum.value==0?'0':format(datum.value,'.1f')","title":null}},"text":{"field":"t"}}}
]},
{"width":350,"height":222,"layer":[
 {"data":{"values":[{}]},"mark":{"type":"rule","strokeWidth":3,"color":"black"},"encoding":{"x":{"datum":-5.04,"type":"quantitative","scale":{"domain":[-5.167,1.315],"nice":false,"zero":false},"axis":null},"x2":{"datum":1.26},"y":{"datum":0,"type":"quantitative","scale":{"domain":[-0.606,3.506],"nice":false,"zero":false},"axis":null}}},
 {"data":{"values":[{}]},"mark":{"type":"rule","strokeWidth":3,"color":"black"},"encoding":{"x":{"datum":0,"type":"quantitative","scale":{"domain":[-5.167,1.315],"nice":false,"zero":false},"axis":null},"y":{"datum":-0.95,"type":"quantitative","scale":{"domain":[-0.606,3.506],"nice":false,"zero":false},"axis":null},"y2":{"datum":3.47}}},
 {"data":{"values":[{"x":-5,"y":0},{"x":-4,"y":0},{"x":-3,"y":0},{"x":-2,"y":0},{"x":-1,"y":0},{"x":1,"y":0},{"x":0,"y":1},{"x":0,"y":2},{"x":0,"y":3}]},"mark":{"type":"point","shape":"circle","filled":true,"color":"black","size":22,"opacity":1},"encoding":{"x":{"field":"x","type":"quantitative","scale":{"domain":[-5.167,1.315],"nice":false,"zero":false},"axis":null},"y":{"field":"y","type":"quantitative","scale":{"domain":[-0.606,3.506],"nice":false,"zero":false},"axis":null}}},
 {"data":{"name":"zc"},"transform":[{"filter":"datum.s=='v'"}],"mark":{"type":"line","color":"black","strokeWidth":2.5},"encoding":{"x":{"field":"x","type":"quantitative","scale":{"domain":[-5.167,1.315],"nice":false,"zero":false},"axis":null},"y":{"field":"y","type":"quantitative","scale":{"domain":[-0.606,3.506],"nice":false,"zero":false},"axis":null},"order":{"field":"i","type":"quantitative"}}},
 {"data":{"name":"zc"},"transform":[{"filter":"datum.s=='h'"}],"mark":{"type":"line","color":"black","strokeWidth":2.5},"encoding":{"x":{"field":"x","type":"quantitative","scale":{"domain":[-5.167,1.315],"nice":false,"zero":false},"axis":null},"y":{"field":"y","type":"quantitative","scale":{"domain":[-0.606,3.506],"nice":false,"zero":false},"axis":null},"order":{"field":"i","type":"quantitative"}}},
 {"data":{"name":"zc"},"transform":[{"filter":"datum.s=='v'"}],"mark":{"type":"point","shape":"diamond","filled":true,"stroke":"black","strokeWidth":1.6,"opacity":1},"encoding":{"x":{"field":"x","type":"quantitative","scale":{"domain":[-5.167,1.315],"nice":false,"zero":false},"axis":null},"y":{"field":"y","type":"quantitative","scale":{"domain":[-0.606,3.506],"nice":false,"zero":false},"axis":null},"fill":{"condition":{"test":"datum.i==0||datum.i==15","value":"white"},"value":"black"},"size":{"condition":{"test":"datum.i==0||datum.i==15","value":130},"value":36}}},
 {"data":{"name":"zc"},"transform":[{"filter":"datum.s=='h'"}],"mark":{"type":"point","shape":"M-1,0L1,0M0,-1L0,1","filled":false,"stroke":"black","strokeWidth":2.2,"opacity":1},"encoding":{"x":{"field":"x","type":"quantitative","scale":{"domain":[-5.167,1.315],"nice":false,"zero":false},"axis":null},"y":{"field":"y","type":"quantitative","scale":{"domain":[-0.606,3.506],"nice":false,"zero":false},"axis":null},"size":{"condition":{"test":"datum.i==0","value":130},"value":64}}},
 {"data":{"values":[{"x":-3.62,"y":2.28,"x2":-3.88,"y2":2.12},{"x":-2.78,"y":1.13,"x2":-2.76,"y2":1.38},{"x":-1.28,"y":1.04,"x2":-1.37,"y2":0.88},{"x":0.08,"y":2.33,"x2":-0.69,"y2":2.09},{"x":0.14,"y":1.67,"x2":-0.38,"y2":1.59},{"x":-0.72,"y":1.16,"x2":-0.44,"y2":1.01}]},"mark":{"type":"rule","strokeWidth":1.4,"color":"black"},"encoding":{"x":{"field":"x","type":"quantitative","scale":{"domain":[-5.167,1.315],"nice":false,"zero":false},"axis":null},"y":{"field":"y","type":"quantitative","scale":{"domain":[-0.606,3.506],"nice":false,"zero":false},"axis":null},"x2":{"field":"x2"},"y2":{"field":"y2"}}},
 {"data":{"values":[{"x":-4.58,"y":3.01,"t":"NRM"},{"x":-3.19,"y":2.28,"t":"T350"},{"x":-2.75,"y":0.9,"t":"T600"},{"x":-1.12,"y":1.27,"t":"T660"},{"x":-0.92,"y":2.92,"t":"NRM"},{"x":0.5,"y":2.4,"t":"T350"},{"x":0.54,"y":1.67,"t":"T600"},{"x":0.48,"y":-0.27,"t":"T700"},{"x":-0.24,"y":3.68,"t":"N"},{"x":0.28,"y":3.68,"t":"N"},{"x":1.5,"y":0.23,"t":"E UP"}]},"mark":{"type":"text","align":"center","baseline":"middle","fontSize":22},"encoding":{"x":{"field":"x","type":"quantitative","scale":{"domain":[-5.167,1.315],"nice":false,"zero":false},"axis":null},"y":{"field":"y","type":"quantitative","scale":{"domain":[-0.606,3.506],"nice":false,"zero":false},"axis":null},"text":{"field":"t"}}},
 {"data":{"values":[{"x":-4.72,"y":-0.63,"t":"Scale\u00a0\u00a0=\u00a0\u00a010 mA/m"}]},"mark":{"type":"text","align":"left","baseline":"middle","fontSize":22},"encoding":{"x":{"field":"x","type":"quantitative","scale":{"domain":[-5.167,1.315],"nice":false,"zero":false},"axis":null},"y":{"field":"y","type":"quantitative","scale":{"domain":[-0.606,3.506],"nice":false,"zero":false},"axis":null},"text":{"field":"t"}}},
 {"data":{"values":[{"x":1.926,"y":-1.34,"t":"Geographic Coordinates"}]},"mark":{"type":"text","align":"right","baseline":"middle","fontSize":22},"encoding":{"x":{"field":"x","type":"quantitative","scale":{"domain":[-5.167,1.315],"nice":false,"zero":false},"axis":null},"y":{"field":"y","type":"quantitative","scale":{"domain":[-0.606,3.506],"nice":false,"zero":false},"axis":null},"text":{"field":"t"}}},
 {"data":{"values":[{"x":-0.24,"y":3.35},{"x":1.17,"y":-0.12}]},"mark":{"type":"point","shape":"M-1,0L1,0M0,-1L0,1","filled":false,"stroke":"black","strokeWidth":2.8,"size":100,"opacity":1},"encoding":{"x":{"field":"x","type":"quantitative","scale":{"domain":[-5.167,1.315],"nice":false,"zero":false},"axis":null},"y":{"field":"y","type":"quantitative","scale":{"domain":[-0.606,3.506],"nice":false,"zero":false},"axis":null}}},
 {"data":{"values":[{"x":0.23,"y":3.35},{"x":1.65,"y":-0.12}]},"mark":{"type":"point","shape":"diamond","filled":true,"fill":"white","stroke":"black","strokeWidth":1.5,"size":70,"opacity":1},"encoding":{"x":{"field":"x","type":"quantitative","scale":{"domain":[-5.167,1.315],"nice":false,"zero":false},"axis":null},"y":{"field":"y","type":"quantitative","scale":{"domain":[-0.606,3.506],"nice":false,"zero":false},"axis":null}}}
]},
{"width":240,"height":222,"layer":[
 {"data":{"values":[{"l":1},{"l":0.75},{"l":0.5},{"l":0.25}]},"mark":{"type":"rule","strokeDash":[15,9],"strokeWidth":2.8,"color":"black"},"encoding":{"y":{"field":"l","type":"quantitative","scale":{"domain":[0,1],"nice":false,"zero":false},"axis":{"values":[0,0.5,1],"labelExpr":"datum.value==0?'0':format(datum.value,'.1f')","title":null}},"x":{"datum":5.8,"type":"quantitative","scale":{"domain":[0,700],"nice":false,"zero":false},"axis":{"values":[0,200,400,600],"title":"Step (°C)"}},"x2":{"datum":677}}},
 {"data":{"name":"cd"},"mark":{"type":"line","color":"black","strokeWidth":2.5},"encoding":{"x":{"field":"step","type":"quantitative","scale":{"domain":[0,700],"nice":false,"zero":false},"axis":{"values":[0,200,400,600],"title":"Step (°C)"}},"y":{"field":"m","type":"quantitative","scale":{"domain":[0,1],"nice":false,"zero":false},"axis":{"values":[0,0.5,1],"labelExpr":"datum.value==0?'0':format(datum.value,'.1f')","title":null}}}},
 {"data":{"name":"cd"},"mark":{"type":"point","shape":"M-1,0L1,0M0,-1L0,1","filled":false,"stroke":"black","strokeWidth":1.8,"size":64,"opacity":1},"encoding":{"x":{"field":"step","type":"quantitative","scale":{"domain":[0,700],"nice":false,"zero":false},"axis":{"values":[0,200,400,600],"title":"Step (°C)"}},"y":{"field":"m","type":"quantitative","scale":{"domain":[0,1],"nice":false,"zero":false},"axis":{"values":[0,0.5,1],"labelExpr":"datum.value==0?'0':format(datum.value,'.1f')","title":null}}}},
 {"data":{"values":[{"x":0,"y":0},{"x":100,"y":0},{"x":200,"y":0},{"x":300,"y":0},{"x":400,"y":0},{"x":500,"y":0},{"x":600,"y":0},{"x":700,"y":0},{"x":0,"y":0.5},{"x":0,"y":1}]},"mark":{"type":"point","shape":"circle","filled":true,"color":"black","size":22,"opacity":1},"encoding":{"x":{"field":"x","type":"quantitative","scale":{"domain":[0,700],"nice":false,"zero":false},"axis":{"values":[0,200,400,600],"title":"Step (°C)"}},"y":{"field":"y","type":"quantitative","scale":{"domain":[0,1],"nice":false,"zero":false},"axis":{"values":[0,0.5,1],"labelExpr":"datum.value==0?'0':format(datum.value,'.1f')","title":null}}}},
 {"data":{"values":[{"x":-170,"y":1.182,"t":"(d)"},{"x":92.5,"y":1.024,"t":"M"},{"x":279.2,"y":1.024,"t":"=\u00a0\u00a029.6 mA/m"}]},"mark":{"type":"text","align":"left","baseline":"alphabetic","fontSize":21},"encoding":{"x":{"field":"x","type":"quantitative","scale":{"domain":[0,700],"nice":false,"zero":false},"axis":{"values":[0,200,400,600],"title":"Step (°C)"}},"y":{"field":"y","type":"quantitative","scale":{"domain":[0,1],"nice":false,"zero":false},"axis":{"values":[0,0.5,1],"labelExpr":"datum.value==0?'0':format(datum.value,'.1f')","title":null}},"text":{"field":"t"}}},
 {"data":{"values":[{"x":-77.8,"y":1.182,"t":"P20-2 (Red Siltstone)"}]},"mark":{"type":"text","align":"left","baseline":"alphabetic","fontSize":21,"fontWeight":"bold"},"encoding":{"x":{"field":"x","type":"quantitative","scale":{"domain":[0,700],"nice":false,"zero":false},"axis":{"values":[0,200,400,600],"title":"Step (°C)"}},"y":{"field":"y","type":"quantitative","scale":{"domain":[0,1],"nice":false,"zero":false},"axis":{"values":[0,0.5,1],"labelExpr":"datum.value==0?'0':format(datum.value,'.1f')","title":null}},"text":{"field":"t"}}},
 {"data":{"values":[{"x":147.9,"y":1.024,"t":"MAX"}]},"mark":{"type":"text","align":"left","baseline":"alphabetic","fontSize":15},"encoding":{"x":{"field":"x","type":"quantitative","scale":{"domain":[0,700],"nice":false,"zero":false},"axis":{"values":[0,200,400,600],"title":"Step (°C)"}},"y":{"field":"y","type":"quantitative","scale":{"domain":[0,1],"nice":false,"zero":false},"axis":{"values":[0,0.5,1],"labelExpr":"datum.value==0?'0':format(datum.value,'.1f')","title":null}},"text":{"field":"t"}}},
 {"data":{"values":[{"x":-111.7,"y":0.393,"t":"M\u00a0\u00a0/\u00a0\u00a0M"}]},"mark":{"type":"text","align":"left","baseline":"alphabetic","fontSize":21,"angle":270},"encoding":{"x":{"field":"x","type":"quantitative","scale":{"domain":[0,700],"nice":false,"zero":false},"axis":{"values":[0,200,400,600],"title":"Step (°C)"}},"y":{"field":"y","type":"quantitative","scale":{"domain":[0,1],"nice":false,"zero":false},"axis":{"values":[0,0.5,1],"labelExpr":"datum.value==0?'0':format(datum.value,'.1f')","title":null}},"text":{"field":"t"}}},
 {"data":{"values":[{"x":-111.7,"y":0.688,"t":"MAX"}]},"mark":{"type":"text","align":"left","baseline":"alphabetic","fontSize":15,"angle":270},"encoding":{"x":{"field":"x","type":"quantitative","scale":{"domain":[0,700],"nice":false,"zero":false},"axis":{"values":[0,200,400,600],"title":"Step (°C)"}},"y":{"field":"y","type":"quantitative","scale":{"domain":[0,1],"nice":false,"zero":false},"axis":{"values":[0,0.5,1],"labelExpr":"datum.value==0?'0':format(datum.value,'.1f')","title":null}},"text":{"field":"t"}}}
]},
{"width":350,"height":222,"layer":[
 {"data":{"values":[{}]},"mark":{"type":"rule","strokeWidth":3,"color":"black"},"encoding":{"x":{"datum":-4.94,"type":"quantitative","scale":{"domain":[-4.925,1.679],"nice":false,"zero":false},"axis":null},"x2":{"datum":1.45},"y":{"datum":0,"type":"quantitative","scale":{"domain":[-0.534,3.655],"nice":false,"zero":false},"axis":null}}},
 {"data":{"values":[{}]},"mark":{"type":"rule","strokeWidth":3,"color":"black"},"encoding":{"x":{"datum":0,"type":"quantitative","scale":{"domain":[-4.925,1.679],"nice":false,"zero":false},"axis":null},"y":{"datum":-1.06,"type":"quantitative","scale":{"domain":[-0.534,3.655],"nice":false,"zero":false},"axis":null},"y2":{"datum":4.07}}},
 {"data":{"values":[{"x":-4,"y":0},{"x":-3,"y":0},{"x":-2,"y":0},{"x":-1,"y":0},{"x":1,"y":0},{"x":0,"y":1},{"x":0,"y":2},{"x":0,"y":3},{"x":0,"y":4},{"x":0,"y":-1}]},"mark":{"type":"point","shape":"circle","filled":true,"color":"black","size":22,"opacity":1},"encoding":{"x":{"field":"x","type":"quantitative","scale":{"domain":[-4.925,1.679],"nice":false,"zero":false},"axis":null},"y":{"field":"y","type":"quantitative","scale":{"domain":[-0.534,3.655],"nice":false,"zero":false},"axis":null}}},
 {"data":{"name":"zd"},"transform":[{"filter":"datum.s=='v'"}],"mark":{"type":"line","color":"black","strokeWidth":2.5},"encoding":{"x":{"field":"x","type":"quantitative","scale":{"domain":[-4.925,1.679],"nice":false,"zero":false},"axis":null},"y":{"field":"y","type":"quantitative","scale":{"domain":[-0.534,3.655],"nice":false,"zero":false},"axis":null},"order":{"field":"i","type":"quantitative"}}},
 {"data":{"name":"zd"},"transform":[{"filter":"datum.s=='h'"}],"mark":{"type":"line","color":"black","strokeWidth":2.5},"encoding":{"x":{"field":"x","type":"quantitative","scale":{"domain":[-4.925,1.679],"nice":false,"zero":false},"axis":null},"y":{"field":"y","type":"quantitative","scale":{"domain":[-0.534,3.655],"nice":false,"zero":false},"axis":null},"order":{"field":"i","type":"quantitative"}}},
 {"data":{"name":"zd"},"transform":[{"filter":"datum.s=='v'"}],"mark":{"type":"point","shape":"diamond","filled":true,"stroke":"black","strokeWidth":1.6,"opacity":1},"encoding":{"x":{"field":"x","type":"quantitative","scale":{"domain":[-4.925,1.679],"nice":false,"zero":false},"axis":null},"y":{"field":"y","type":"quantitative","scale":{"domain":[-0.534,3.655],"nice":false,"zero":false},"axis":null},"fill":{"condition":{"test":"datum.i==0","value":"white"},"value":"black"},"size":{"condition":{"test":"datum.i==0","value":130},"value":36}}},
 {"data":{"name":"zd"},"transform":[{"filter":"datum.s=='h'"}],"mark":{"type":"point","shape":"M-1,0L1,0M0,-1L0,1","filled":false,"stroke":"black","strokeWidth":2.2,"opacity":1},"encoding":{"x":{"field":"x","type":"quantitative","scale":{"domain":[-4.925,1.679],"nice":false,"zero":false},"axis":null},"y":{"field":"y","type":"quantitative","scale":{"domain":[-0.534,3.655],"nice":false,"zero":false},"axis":null},"size":{"condition":{"test":"datum.i==0","value":100},"value":64}}},
 {"data":{"values":[{"x":-3.76,"y":3.09,"x2":-4.11,"y2":2.97},{"x":-3.73,"y":1.87,"x2":-3.42,"y2":2.12},{"x":0.85,"y":3.06,"x2":1.05,"y2":2.91},{"x":1.3,"y":2.32,"x2":1.02,"y2":2.28}]},"mark":{"type":"rule","strokeWidth":1.4,"color":"black"},"encoding":{"x":{"field":"x","type":"quantitative","scale":{"domain":[-4.925,1.679],"nice":false,"zero":false},"axis":null},"y":{"field":"y","type":"quantitative","scale":{"domain":[-0.534,3.655],"nice":false,"zero":false},"axis":null},"x2":{"field":"x2"},"y2":{"field":"y2"}}},
 {"data":{"values":[{"x":-4.52,"y":3.53,"t":"NRM"},{"x":-3.32,"y":3.13,"t":"T350"},{"x":-4.18,"y":1.81,"t":"T600"},{"x":-2.81,"y":1.14,"t":"T660"},{"x":0.66,"y":3.25,"t":"T350"},{"x":1.84,"y":3.38,"t":"NRM"},{"x":1.77,"y":2.32,"t":"T600"},{"x":1.24,"y":1.46,"t":"T660"},{"x":0.48,"y":-0.32,"t":"T700"},{"x":-0.22,"y":4.26,"t":"N"},{"x":0.28,"y":4.26,"t":"N"},{"x":1.57,"y":0.23,"t":"E UP"}]},"mark":{"type":"text","align":"center","baseline":"middle","fontSize":22},"encoding":{"x":{"field":"x","type":"quantitative","scale":{"domain":[-4.925,1.679],"nice":false,"zero":false},"axis":null},"y":{"field":"y","type":"quantitative","scale":{"domain":[-0.534,3.655],"nice":false,"zero":false},"axis":null},"text":{"field":"t"}}},
 {"data":{"values":[{"x":-4.85,"y":-0.54,"t":"Scale\u00a0\u00a0=\u00a0\u00a05 mA/m"}]},"mark":{"type":"text","align":"left","baseline":"middle","fontSize":22},"encoding":{"x":{"field":"x","type":"quantitative","scale":{"domain":[-4.925,1.679],"nice":false,"zero":false},"axis":null},"y":{"field":"y","type":"quantitative","scale":{"domain":[-0.534,3.655],"nice":false,"zero":false},"axis":null},"text":{"field":"t"}}},
 {"data":{"values":[{"x":2.3,"y":-1.31,"t":"Geographic Coordinates"}]},"mark":{"type":"text","align":"right","baseline":"middle","fontSize":22},"encoding":{"x":{"field":"x","type":"quantitative","scale":{"domain":[-4.925,1.679],"nice":false,"zero":false},"axis":null},"y":{"field":"y","type":"quantitative","scale":{"domain":[-0.534,3.655],"nice":false,"zero":false},"axis":null},"text":{"field":"t"}}},
 {"data":{"values":[{"x":-0.24,"y":3.93},{"x":1.24,"y":-0.14}]},"mark":{"type":"point","shape":"M-1,0L1,0M0,-1L0,1","filled":false,"stroke":"black","strokeWidth":2.8,"size":100,"opacity":1},"encoding":{"x":{"field":"x","type":"quantitative","scale":{"domain":[-4.925,1.679],"nice":false,"zero":false},"axis":null},"y":{"field":"y","type":"quantitative","scale":{"domain":[-0.534,3.655],"nice":false,"zero":false},"axis":null}}},
 {"data":{"values":[{"x":0.25,"y":3.93},{"x":1.74,"y":-0.14}]},"mark":{"type":"point","shape":"diamond","filled":true,"fill":"white","stroke":"black","strokeWidth":1.5,"size":70,"opacity":1},"encoding":{"x":{"field":"x","type":"quantitative","scale":{"domain":[-4.925,1.679],"nice":false,"zero":false},"axis":null},"y":{"field":"y","type":"quantitative","scale":{"domain":[-0.534,3.655],"nice":false,"zero":false},"axis":null}}}
]}
]
}
